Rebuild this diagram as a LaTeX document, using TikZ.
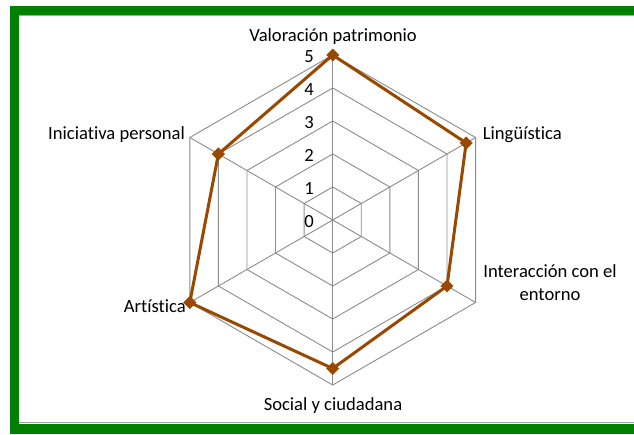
\documentclass[tikz,border=0pt]{standalone}
\usepackage{fontspec}
\setmainfont[Ligatures=NoCommon]{Carlito}
\usetikzlibrary{shapes.geometric}
\definecolor{frameGreen}{RGB}{0,128,0}
\definecolor{seriesBrown}{RGB}{153,72,0}
\definecolor{gridGray}{RGB}{140,140,140}
\begin{document}
\begin{tikzpicture}[x=1pt,y=1pt,
  lbl/.style={font=\fontsize{18.6}{22.7}\selectfont, inner sep=0pt, text=black},
  gridline/.style={draw=gridGray, line width=0.9pt},
  serieline/.style={draw=seriesBrown, line width=3pt, line join=round},
  marker/.style={diamond, fill=seriesBrown, draw=seriesBrown, inner sep=0pt, minimum width=12.5pt, minimum height=12.5pt}]
\useasboundingbox (0,0) rectangle (634,434);
% frame
\fill[frameGreen] (10,0) rectangle (640,428);
\fill[white] (19,10.5) rectangle (640,419);
\draw[gridGray!80, line width=1.3pt] (19,418.3) -- (640,418.3);
\draw[gridGray!80, line width=1.3pt] (19,11.2) -- (640,11.2);
% chart
\begin{scope}[shift={(332.7,214)}]
  \coordinate (O) at (0,0);
  \foreach \k in {1,...,5} {
    \draw[gridline] (90:\k*33) -- (30:\k*33) -- (-30:\k*33) -- (-90:\k*33) -- (210:\k*33) -- (150:\k*33) -- cycle;
  }
  \foreach \a/\n in {90/t,30/r1,-30/r2,-90/b,210/l2,150/l1} {
    \coordinate (v\n) at (\a:165);
    \draw[gridline] (O) -- (v\n);
  }
  \draw[gridline, line width=1.3pt] (O) -- (vt);
  % value labels
  \foreach \k in {0,...,5} {
    \node[lbl, anchor=base east] (n\k) at (-18.7,\k*33-7.3) {\k};
  }
  % data
  \coordinate (c1) at (90:5*33);
  \coordinate (c2) at (30:4.67*33);
  \coordinate (c3) at (-30:4*33);
  \coordinate (c4) at (-90:4.5*33);
  \coordinate (c5) at (210:5*33);
  \coordinate (c6) at (150:4*33);
  \draw[serieline] (c1) -- (c2) -- (c3) -- (c4) -- (c5) -- (c6) -- cycle;
  \foreach \i in {1,...,6} { \node[marker] (m\i) at (c\i) {}; }
\end{scope}
% category labels
\node[lbl, anchor=base] (cat1) at (333,392.3) {Valoración patrimonio};
\node[lbl, anchor=base west] (cat2) at (482.7,294) {Lingüística};
\node[lbl, anchor=base, align=center] (cat3) at (550,134) {Interacción con el\\entorno};
\node[lbl, anchor=base] (cat4) at (333,24) {Social y ciudadana};
\node[lbl, anchor=base east] (cat5) at (186,121.7) {Artística};
\node[lbl, anchor=base east] (cat6) at (185,294) {Iniciativa personal};
\end{tikzpicture}
\end{document}
